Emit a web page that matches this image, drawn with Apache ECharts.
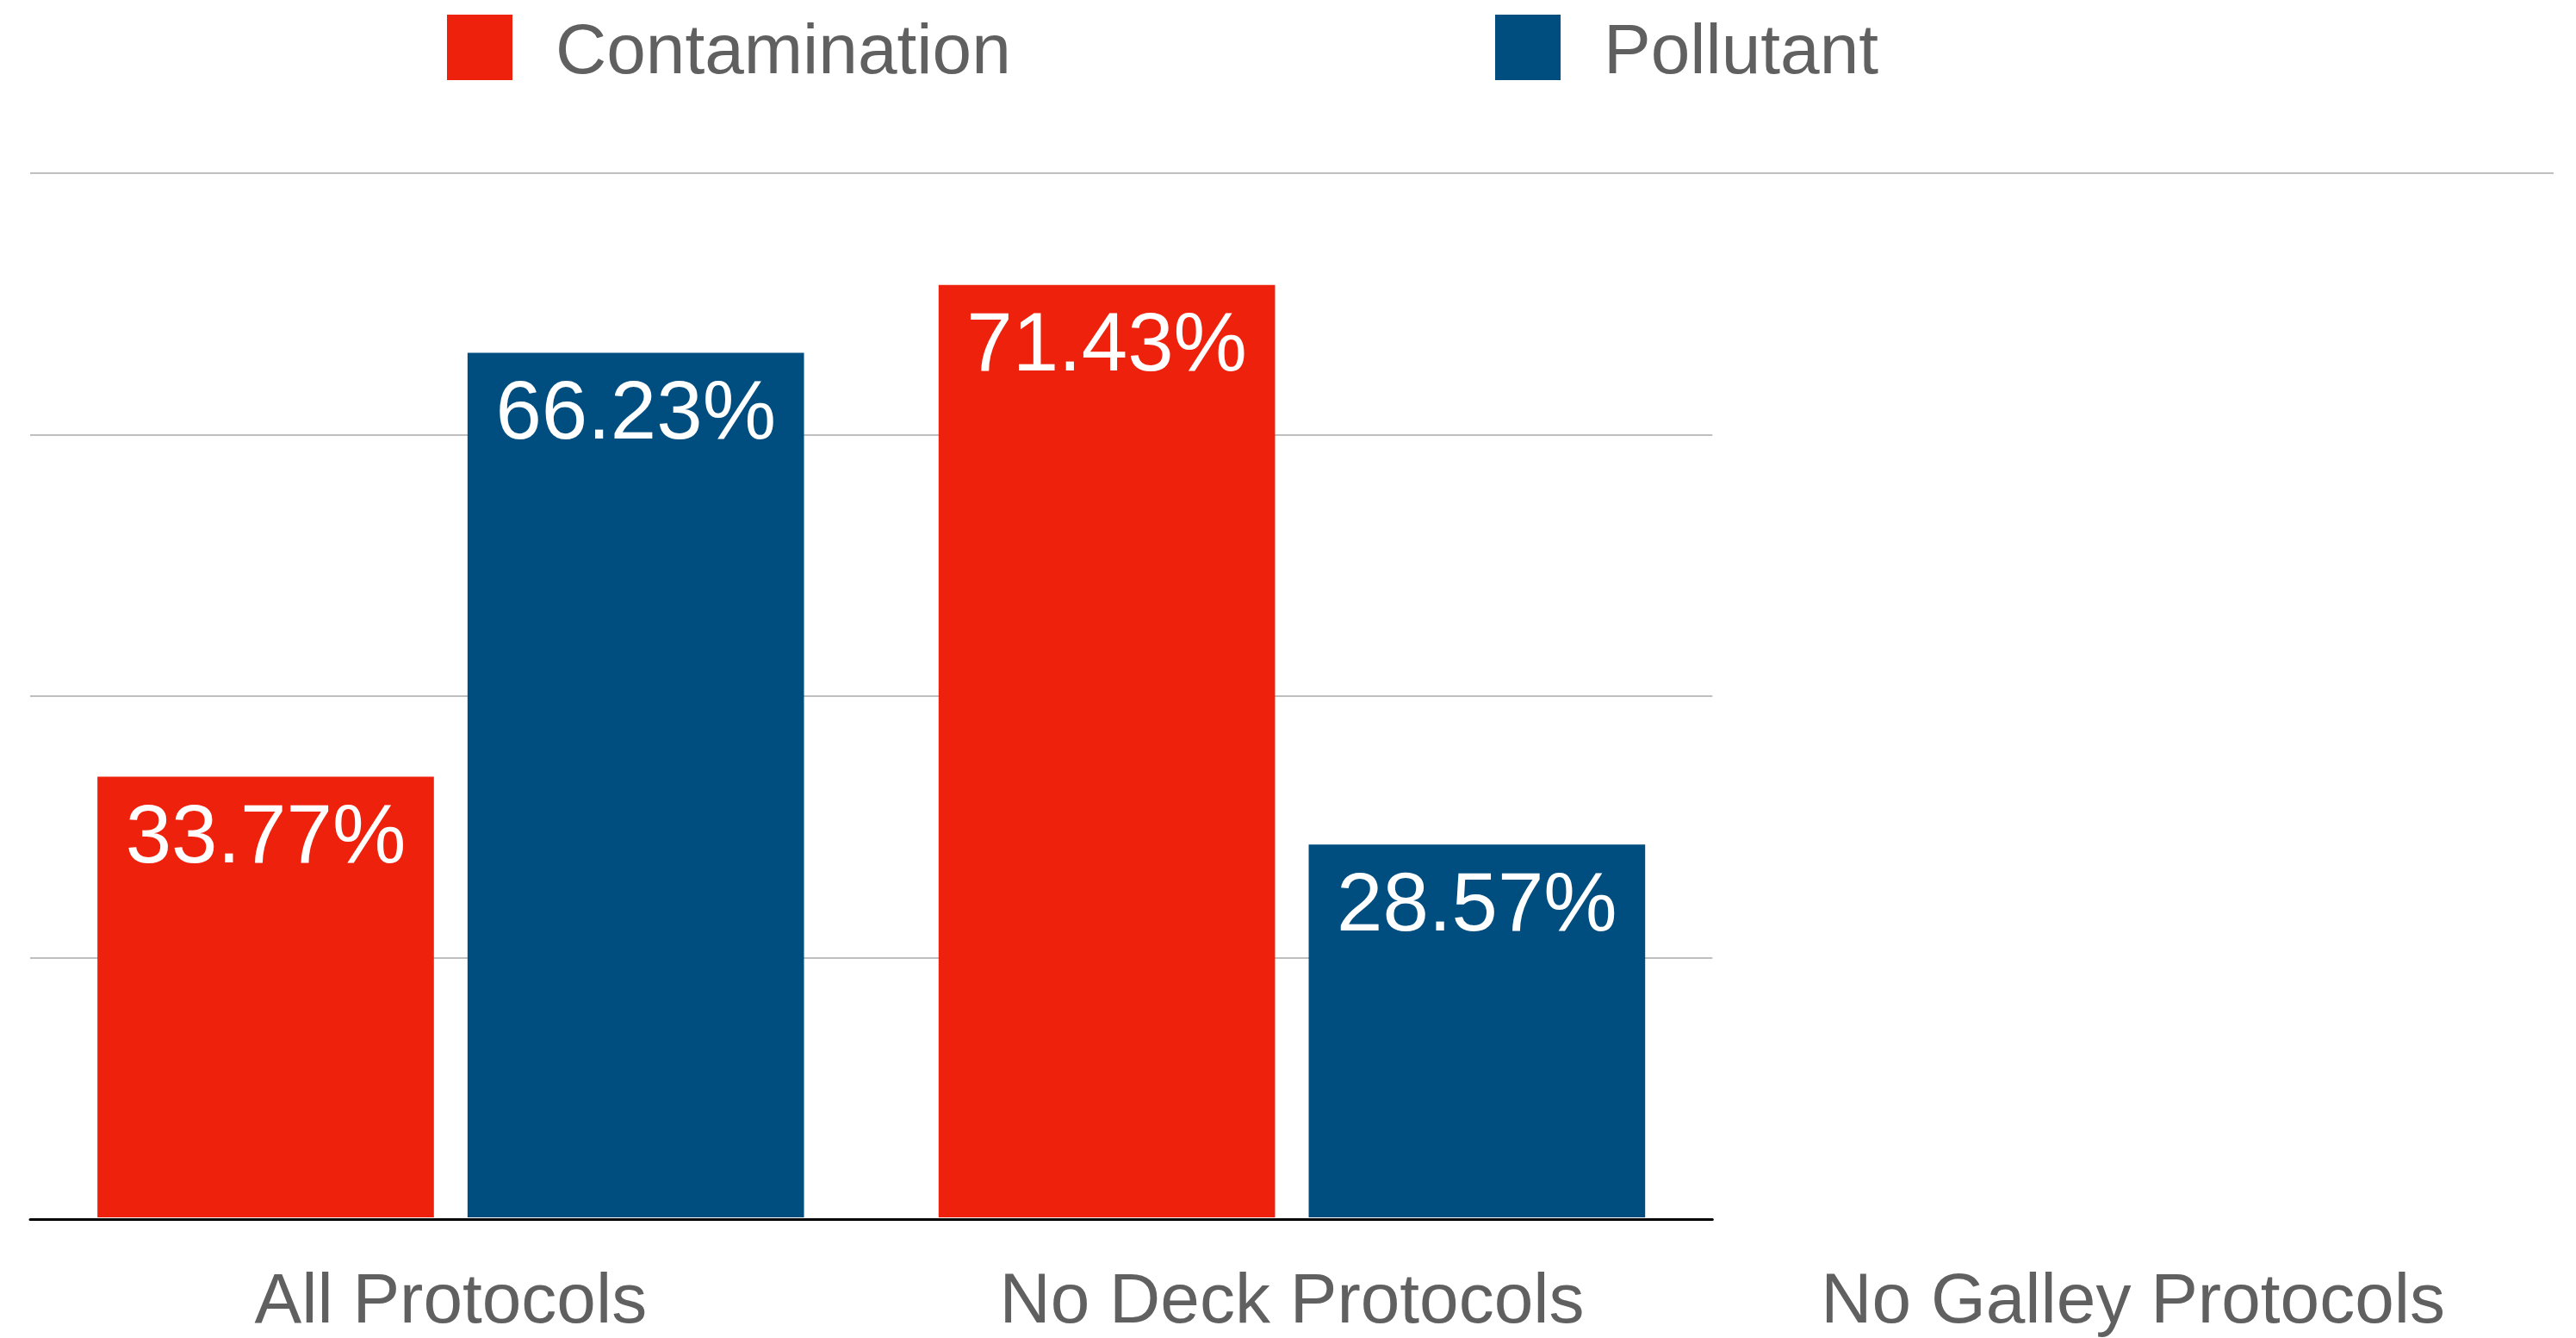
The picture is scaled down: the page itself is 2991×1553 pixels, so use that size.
<!DOCTYPE html>
<html>
<head>
<meta charset="utf-8">
<title>Protocols</title>
<script src="https://cdn.jsdelivr.net/npm/echarts@6/dist/echarts.min.js"></script>
<style>
  html, body { margin: 0; padding: 0; background: #fff; }
  #chart { width: 2991px; height: 1553px; }
</style>
</head>
<body>
<div id="chart"></div>
<script>
  // data
  var categories = ['All Protocols', 'No Deck Protocols', 'No Galley Protocols']
  var contamination = [33.77, 71.43, null]
  var pollutant = [66.23, 28.57, null]
  var yTicks = [0, 20, 40, 60, 80]

  var fontFamily = '"Helvetica Neue", "Liberation Sans", Arial, sans-serif'
  var textColor = '#606060'
  var gridColor = '#bfbfbf'

  var gridLeft = 35
  var gridRight = 26
  var gridTop = 201
  var gridBottom = 138
  // the axis line and the inner lines only cover the categories that have bars
  var catWidth = (2991 - gridLeft - gridRight) / categories.length
  var filledCats = categories.slice(0, 2)

  var myChart = echarts.init(document.getElementById('chart'))

  var barLabel = {
    show: true,
    position: 'insideTop',
    distance: 25,
    color: '#fff',
    fontSize: 96,
    fontFamily: fontFamily,
    formatter: function (p) {
      return p.value.toFixed(2) + '%'
    }
  }

  var legendBase = {
    top: 7,
    padding: 0,
    icon: 'rect',
    itemWidth: 76,
    itemHeight: 76,
    formatter: '{t|{name}}',
    textStyle: {
      fontSize: 82,
      color: textColor,
      fontFamily: fontFamily,
      padding: [0, 0, 0, 45],
      rich: {
        // push the name a little lower than the square's middle
        t: {
          fontSize: 82,
          lineHeight: 82,
          color: textColor,
          fontFamily: fontFamily,
          padding: [14, 0, 0, 0]
        }
      }
    }
  }

  var option = {
    animation: false,
    backgroundColor: '#fff',
    legend: [
      Object.assign({}, legendBase, { left: 519, data: ['Contamination'] }),
      Object.assign({}, legendBase, { left: 1736, data: ['Pollutant'] })
    ],
    grid: [{
      left: gridLeft,
      right: gridRight,
      top: gridTop,
      bottom: gridBottom
    }, {
      left: gridLeft,
      width: catWidth * filledCats.length,
      top: gridTop,
      bottom: gridBottom
    }],
    xAxis: [{
      type: 'category',
      gridIndex: 0,
      data: categories,
      axisLine: { show: false },
      axisTick: { show: false },
      axisLabel: {
        margin: 58,
        fontSize: 82,
        color: textColor,
        fontFamily: fontFamily
      }
    }, {
      type: 'category',
      gridIndex: 1,
      data: filledCats,
      z: 5,
      axisLine: { show: true, lineStyle: { color: '#000', width: 3 } },
      axisTick: { show: false },
      axisLabel: { show: false }
    }],
    yAxis: [{
      // only the top line runs across the whole width
      type: 'value',
      gridIndex: 0,
      min: yTicks[0],
      max: yTicks[yTicks.length - 1],
      interval: yTicks[yTicks.length - 1],
      axisLabel: { show: false },
      axisLine: { show: false },
      axisTick: { show: false },
      splitLine: {
        show: true,
        showMinLine: false,
        lineStyle: { color: gridColor, width: 2 }
      }
    }, {
      type: 'value',
      gridIndex: 1,
      min: yTicks[0],
      max: yTicks[yTicks.length - 1],
      interval: yTicks[1] - yTicks[0],
      axisLabel: { show: false },
      axisLine: { show: false },
      axisTick: { show: false },
      splitLine: {
        show: true,
        showMinLine: false,
        showMaxLine: false,
        lineStyle: { color: gridColor, width: 2 }
      }
    }],
    series: [{
      name: 'Contamination',
      type: 'bar',
      xAxisIndex: 0,
      yAxisIndex: 0,
      barWidth: '40%',
      barGap: '10%',
      itemStyle: { color: '#EE220C' },
      label: barLabel,
      data: contamination
    }, {
      name: 'Pollutant',
      type: 'bar',
      xAxisIndex: 0,
      yAxisIndex: 0,
      barWidth: '40%',
      barGap: '10%',
      itemStyle: { color: '#004D80' },
      label: barLabel,
      data: pollutant
    }]
  }

  myChart.setOption(option)
</script>
</body>
</html>
